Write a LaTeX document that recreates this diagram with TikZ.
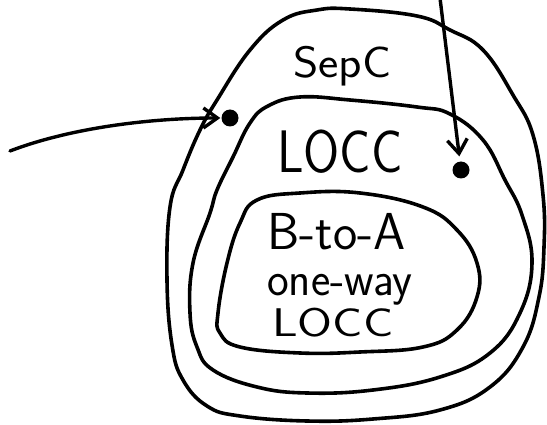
\documentclass[tikz,border=0pt]{standalone}
\usetikzlibrary{arrows.meta}
\begin{document}
\begin{tikzpicture}[x=1pt,y=-1pt,
  outline/.style={line width=3.6pt, line join=round, line cap=round},
  handtext/.style={font=\sffamily, inner sep=0pt, anchor=base west},
  dot/.style={circle, fill=black, inner sep=0pt, minimum size=17pt},
  arrowline/.style={line width=3.4pt, line cap=round,
    -{Straight Barb[length=14pt,width=20pt,line width=3.4pt]}}
]
\useasboundingbox (0,0) rectangle (547,425);

% SepC: the outer region
\draw[outline] plot[smooth cycle, tension=0.7] coordinates {
  (350,9) (417,16) (450,30) (483,50) (513,95) (533,135) (543,195)
  (544,247) (539,297) (523,347) (490,387) (440,410) (373,419) (307,421)
  (240,416) (207,406) (183,380) (172,345) (167,280) (170,207) (183,170)
  (200,130) (217,100) (250,50) (283,20) (317,10)};

% LOCC: the middle region
\draw[outline] plot[smooth cycle, tension=0.7] coordinates {
  (300,97) (350,100) (417,107) (450,114) (483,140) (505,180) (522,215)
  (532,263) (520,313) (490,353) (440,377) (373,390) (307,393) (257,387)
  (213,370) (197,347) (190,313) (193,263) (210,213) (217,190) (233,157)
  (250,123) (268,106)};

% one-way LOCC: the inner region
\draw[outline] plot[smooth cycle, tension=0.7] coordinates {
  (300,193) (360,193) (423,207) (457,230) (477,263) (477,297) (457,330)
  (423,347) (360,352) (300,353) (240,347) (220,333) (218,313) (227,263)
  (240,223) (257,200)};

% labels
\node[handtext, font=\sffamily\fontsize{44}{44}\selectfont, xscale=1.1] (sepc) at (293,78) {SepC};
\node[handtext, font=\sffamily\fontsize{60}{60}\selectfont, xscale=0.87] (locc) at (277,173) {LOCC};
\node[handtext, font=\sffamily\fontsize{52}{52}\selectfont, xscale=0.99] (bta) at (267,250) {B-to-A};
\node[handtext, font=\sffamily\fontsize{48}{48}\selectfont, xscale=0.96] (oneway) at (267,295) {one-way};
\node[handtext, font=\sffamily\fontsize{40}{40}\selectfont, xscale=1.26] (locc2) at (272,336) {LOCC};

% sample points
\node[dot] (p1) at (230,118) {};
\node[dot] (p2) at (461,170) {};

% arrows pointing at the sample points
\coordinate (s1) at (10,151);
\coordinate (s2) at (440,-2);
\draw[arrowline, shorten >=1pt] (s1) .. controls (70,128) and (150,118) .. (p1);
\draw[arrowline, shorten >=5pt] (s2) -- (p2);
\end{tikzpicture}
\end{document}
